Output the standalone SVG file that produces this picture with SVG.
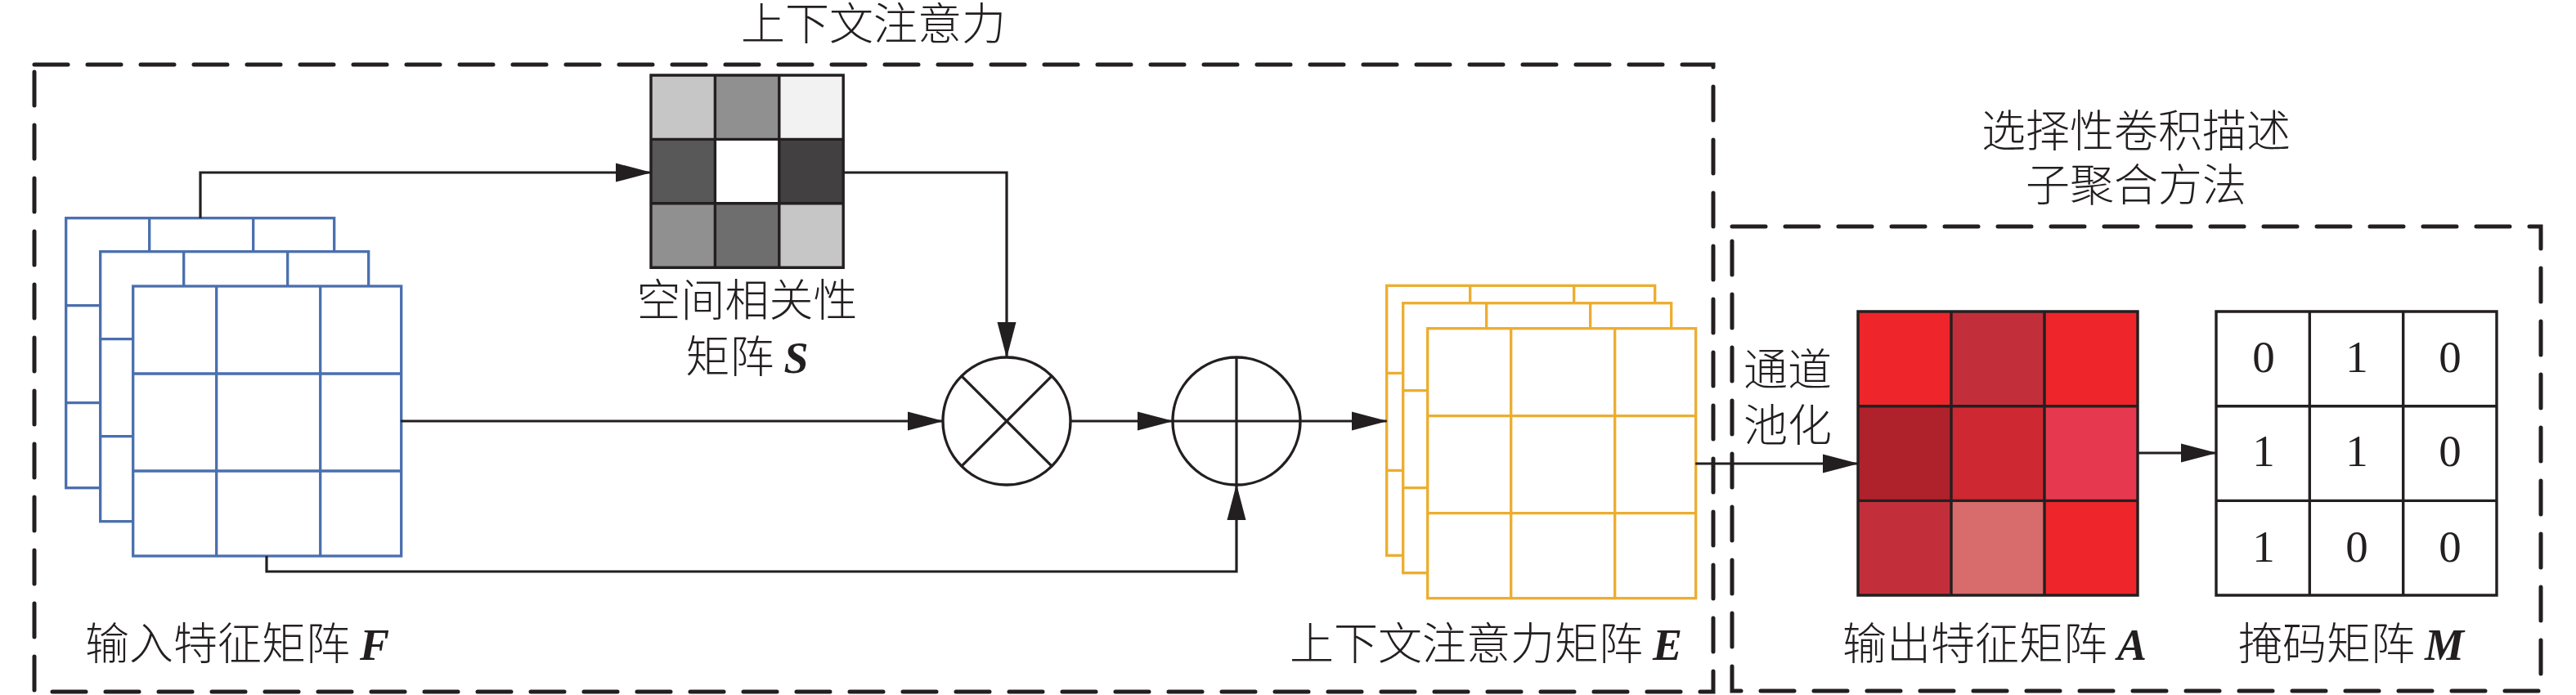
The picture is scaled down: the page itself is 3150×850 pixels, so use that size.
<svg xmlns="http://www.w3.org/2000/svg" xmlns:xlink="http://www.w3.org/1999/xlink" width="3150" height="850" viewBox="0 0 3150 850">
<style>
.box{fill:none;stroke:#231f20;stroke-width:5;stroke-dasharray:41 24;stroke-linecap:round}
.t{font-family:"Noto Sans CJK SC","Liberation Serif",sans-serif;font-size:54px;fill:#231f20;font-weight:300}
.it{font-family:"Liberation Serif",serif;font-style:italic;font-weight:bold}
.num{font-family:"Liberation Serif",serif;font-size:55px;fill:#231f20;text-anchor:middle}
.conn{fill:none;stroke:#231f20;stroke-width:3.2;marker-end:url(#ah)}
.grid{fill:none;stroke:#231f20;stroke-width:3.4}
.op{fill:#fff;stroke:#231f20;stroke-width:3.4}
.opl{stroke:#231f20;stroke-width:3.2;fill:none}
</style>
<defs>
<marker id="ah" markerUnits="userSpaceOnUse" viewBox="0 0 44 24" markerWidth="44" markerHeight="24" refX="43" refY="12" orient="auto">
<path d="M0,0.5L44,12L0,23.5Z" fill="#231f20"/>
</marker>
<g id="layer">
<rect x="0" y="0" width="328" height="330" fill="#fff"/>
<path d="M102,0V330M229,0V330M0,107H328M0,226H328" fill="none"/>
</g>
</defs>
<rect width="3150" height="850" fill="#fff"/>

<g id="boxes">
<rect id="box-context" class="box" x="42" y="79" width="2053" height="767"/>
<rect id="box-select" class="box" x="2118" y="277" width="989" height="568"/>
<text class="t" x="1068" y="49" text-anchor="middle">上下文注意力</text>
<text class="t" x="2612" y="180" text-anchor="middle">选择性卷积描述</text>
<text class="t" x="2612" y="246" text-anchor="middle">子聚合方法</text>
</g>

<g id="node-F">
<g stroke="#4a6fae" stroke-width="3.3">
<use xlink:href="#layer" x="80.7" y="266.7"/>
<use xlink:href="#layer" x="122.7" y="307.7"/>
<use xlink:href="#layer" x="162.7" y="350"/>
</g>
<text class="t" x="104" y="807">输入特征矩阵 <tspan class="it">F</tspan></text>
</g>

<g id="node-S">
<rect x="796" y="92" width="78.4" height="78.4" fill="#c6c6c6"/>
<rect x="874.4" y="92" width="78.4" height="78.4" fill="#919091"/>
<rect x="952.8" y="92" width="78.4" height="78.4" fill="#f2f2f2"/>
<rect x="796" y="170.4" width="78.4" height="78.4" fill="#595859"/>
<rect x="874.4" y="170.4" width="78.4" height="78.4" fill="#ffffff"/>
<rect x="952.8" y="170.4" width="78.4" height="78.4" fill="#434041"/>
<rect x="796" y="248.8" width="78.4" height="78.4" fill="#919091"/>
<rect x="874.4" y="248.8" width="78.4" height="78.4" fill="#6f6e6f"/>
<rect x="952.8" y="248.8" width="78.4" height="78.4" fill="#c6c6c6"/>
<path class="grid" d="M796,92H1031.2V327.2H796Z M874.4,92V327.2 M952.8,92V327.2 M796,170.4H1031.2 M796,248.8H1031.2"/>
<text class="t" x="913.6" y="387" text-anchor="middle">空间相关性</text>
<text class="t" x="913.6" y="456" text-anchor="middle">矩阵 <tspan class="it">S</tspan></text>
</g>

<g id="node-mul">
<circle class="op" cx="1231" cy="515" r="78"/>
<path class="opl" d="M1175.8,459.8L1286.2,570.2M1175.8,570.2L1286.2,459.8"/>
</g>

<g id="node-add">
<circle class="op" cx="1512" cy="515" r="78"/>
<path class="opl" d="M1434,515H1590M1512,437V593"/>
</g>

<g id="node-E">
<g stroke="#ecad2f" stroke-width="3.3">
<use xlink:href="#layer" x="1695.7" y="349.3"/>
<use xlink:href="#layer" x="1715.7" y="370.7"/>
<use xlink:href="#layer" x="1745.7" y="401.7"/>
</g>
<text class="t" x="1577" y="807">上下文注意力矩阵 <tspan class="it">E</tspan></text>
</g>

<g id="node-A">
<rect x="2272" y="381" width="114" height="115.7" fill="#ee252b"/>
<rect x="2386" y="381" width="114" height="115.7" fill="#c22f3b"/>
<rect x="2500" y="381" width="114" height="115.7" fill="#ee252b"/>
<rect x="2272" y="496.7" width="114" height="115.7" fill="#b0222b"/>
<rect x="2386" y="496.7" width="114" height="115.7" fill="#ce2832"/>
<rect x="2500" y="496.7" width="114" height="115.7" fill="#e6394f"/>
<rect x="2272" y="612.4" width="114" height="115.7" fill="#c22f3b"/>
<rect x="2386" y="612.4" width="114" height="115.7" fill="#d86b6b"/>
<rect x="2500" y="612.4" width="114" height="115.7" fill="#ee252b"/>
<path class="grid" d="M2272,381H2614V728H2272Z M2386,381V728 M2500,381V728 M2272,496.7H2614 M2272,612.4H2614"/>
<text class="t" x="2253" y="807">输出特征矩阵 <tspan class="it">A</tspan></text>
</g>

<g id="node-M">
<rect x="2710" y="381" width="343" height="347" fill="#fff"/>
<path class="grid" d="M2710,381H3053V728H2710Z M2824.3,381V728 M2938.7,381V728 M2710,496.7H3053 M2710,612.4H3053"/>
<text class="num" x="2768" y="455">0</text>
<text class="num" x="2882" y="455">1</text>
<text class="num" x="2996" y="455">0</text>
<text class="num" x="2768" y="570">1</text>
<text class="num" x="2882" y="570">1</text>
<text class="num" x="2996" y="570">0</text>
<text class="num" x="2768" y="687">1</text>
<text class="num" x="2882" y="687">0</text>
<text class="num" x="2996" y="687">0</text>
<text class="t" x="2737" y="807">掩码矩阵 <tspan class="it">M</tspan></text>
</g>

<g id="connectors">
<path class="conn" d="M245,266.7V211H796"/>
<path class="conn" d="M1031,211H1231V437"/>
<path class="conn" d="M490,515H1153"/>
<path class="conn" d="M1309,515H1434"/>
<path class="conn" d="M326,680V699H1512V593"/>
<path class="conn" d="M1590,515H1695.7"/>
<path class="conn" d="M2073.3,567H2272"/>
<path class="conn" d="M2614,554H2710"/>
<text class="t" x="2132" y="472">通道</text>
<text class="t" x="2132" y="540">池化</text>
</g>
</svg>
